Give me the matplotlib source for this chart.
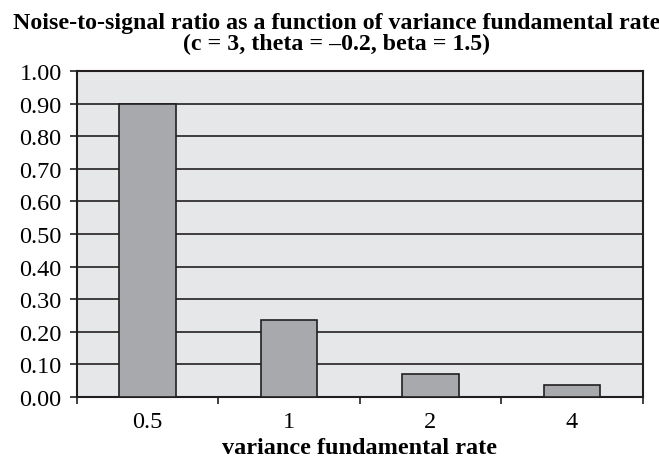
import matplotlib.pyplot as plt
import numpy as np

categories = ["0.5", "1", "2", "4"]
ratios = [0.90, 0.237, 0.07, 0.036]
y_ticks = [0.0, 0.1, 0.2, 0.3, 0.4, 0.5, 0.6, 0.7, 0.8, 0.9, 1.0]

plt.rcParams['font.family'] = ['Liberation Serif', 'DejaVu Serif']

fig = plt.figure(figsize=(6.59, 4.60), dpi=100)
ax = fig.add_axes([0.1168, 0.1348, 0.8582, 0.7087])
ax.set_facecolor('#e6e7e8')

x = np.arange(len(categories))
ax.bar(x, ratios, width=0.4, color='#a7a9ac', edgecolor='#231f20', linewidth=1.2, zorder=3)

ax.set_ylim(0, 1.0)
ax.set_xlim(-0.5, len(categories) - 0.5)
ax.set_yticks(y_ticks)
ax.set_yticklabels(["%.2f" % v for v in y_ticks])
ax.yaxis.grid(True, color='#231f20', linewidth=1.2, zorder=1)
ax.set_axisbelow(True)

# category ticks sit between the bars, labels in the middle
ax.set_xticks(np.arange(len(categories) + 1) - 0.5)
ax.set_xticklabels([])
ax.set_xticks(x, minor=True)
ax.set_xticklabels(categories, minor=True)
ax.tick_params(axis='x', which='minor', length=0, pad=10, labelsize=17.5)
ax.tick_params(axis='x', which='major', direction='out', length=5, width=1.2, color='#231f20')
ax.tick_params(axis='y', direction='out', length=5, width=1.2, color='#231f20', labelsize=17.5, pad=6)

for s in ax.spines.values():
    s.set_color('#231f20')
    s.set_linewidth(1.5)

ax.set_xlabel("variance fundamental rate", fontsize=17.5, fontweight='bold', va='baseline')
ax.xaxis.set_label_coords(0.5, -0.172)

fig.text(0.5106, 0.937, "Noise-to-signal ratio as a function of variance fundamental rate",
         ha='center', va='baseline', fontsize=17.2, fontweight='bold')
fig.text(0.5106, 0.891, "(c = 3, theta = \u20130.2, beta = 1.5)",
         ha='center', va='baseline', fontsize=17.2, fontweight='bold')

plt.savefig("out.png")
